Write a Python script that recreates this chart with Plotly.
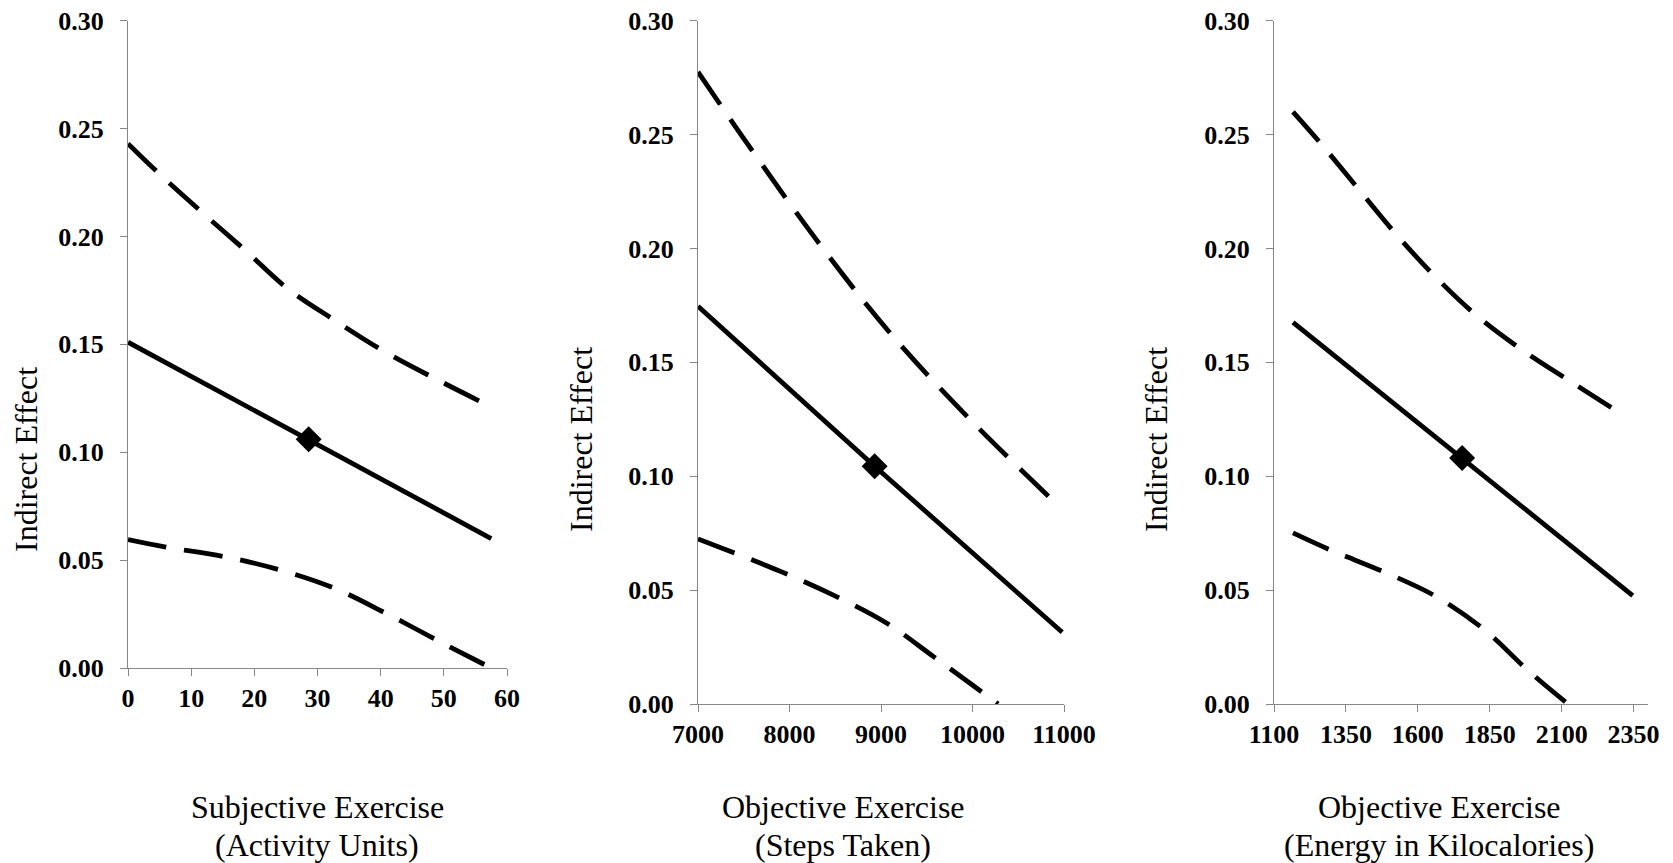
import plotly.graph_objects as go

# ---------------- data ----------------
# Panel 1: Subjective Exercise (Activity Units)
p1_mid_x = [0, 28.6, 57.5]
p1_mid_y = [0.151, 0.106, 0.060]
p1_up_x = [0, 4.6, 11.4, 18.4, 25.2, 32.8, 40.7, 48.9, 57.5]
p1_up_y = [0.243, 0.230, 0.212, 0.194, 0.176, 0.161, 0.1465, 0.1337, 0.121]
p1_lo_x = [0, 6.0, 15.1, 24.1, 32.8, 41.0, 49.7, 57.5]
p1_lo_y = [0.0595, 0.056, 0.0517, 0.0454, 0.0368, 0.0251, 0.0117, 0.0]
p1_pt_x = [28.6]
p1_pt_y = [0.106]

# Panel 2: Objective Exercise (Steps Taken)
p2_mid_x = [7000, 8930, 10980]
p2_mid_y = [0.1746, 0.1044, 0.0315]
p2_up_x = [7000, 7543, 8285, 9078, 9945, 10875]
p2_up_y = [0.2775, 0.2458, 0.2043, 0.1639, 0.1261, 0.0895]
p2_lo_x = [7000, 7914, 8480, 9055, 9574, 10101, 10280]
p2_lo_y = [0.0725, 0.058, 0.0478, 0.0357, 0.0208, 0.0053, 0.0]
p2_pt_x = [8930]
p2_pt_y = [0.1044]

# Panel 3: Objective Exercise (Energy in Kilocalories)
p3_mid_x = [1166, 1754, 2347]
p3_mid_y = [0.1675, 0.108, 0.0476]
p3_up_x = [1166, 1262, 1387, 1517, 1656, 1803, 1963, 2138, 2310]
p3_up_y = [0.260, 0.2462, 0.2271, 0.2073, 0.1882, 0.1707, 0.1554, 0.141, 0.1271]
p3_lo_x = [1166, 1296, 1482, 1666, 1832, 1985, 2122]
p3_lo_y = [0.0751, 0.0676, 0.058, 0.047, 0.0325, 0.0145, 0.0]
p3_pt_x = [1754]
p3_pt_y = [0.108]

y_ticks = [0.00, 0.05, 0.10, 0.15, 0.20, 0.25, 0.30]
x1_ticks = [0, 10, 20, 30, 40, 50, 60]
x2_ticks = [7000, 8000, 9000, 10000, 11000]
x3_ticks = [1100, 1350, 1600, 1850, 2100, 2350]

y_title = "Indirect Effect"
x_titles = [("Subjective Exercise", "(Activity Units)"),
            ("Objective Exercise", "(Steps Taken)"),
            ("Objective Exercise", "(Energy in Kilocalories)")]

# ---------------- figure ----------------
W, H = 1673, 863
SERIF = "Liberation Serif"
LW = 4.8
DASH = "39px,18px"

fig = go.Figure()

panels = [
    (p1_mid_x, p1_mid_y, p1_up_x, p1_up_y, p1_lo_x, p1_lo_y, p1_pt_x, p1_pt_y),
    (p2_mid_x, p2_mid_y, p2_up_x, p2_up_y, p2_lo_x, p2_lo_y, p2_pt_x, p2_pt_y),
    (p3_mid_x, p3_mid_y, p3_up_x, p3_up_y, p3_lo_x, p3_lo_y, p3_pt_x, p3_pt_y),
]

for i, (mx, my, ux, uy, lx, ly, px, py) in enumerate(panels):
    xa = "x" if i == 0 else f"x{i+1}"
    ya = "y" if i == 0 else f"y{i+1}"
    fig.add_trace(go.Scatter(x=ux, y=uy, mode="lines", xaxis=xa, yaxis=ya,
                             line=dict(color="black", width=LW, dash=DASH, shape="spline"),
                             showlegend=False, hoverinfo="skip"))
    fig.add_trace(go.Scatter(x=lx, y=ly, mode="lines", xaxis=xa, yaxis=ya,
                             line=dict(color="black", width=LW, dash=DASH, shape="spline"),
                             showlegend=False, hoverinfo="skip"))
    fig.add_trace(go.Scatter(x=mx, y=my, mode="lines", xaxis=xa, yaxis=ya,
                             line=dict(color="black", width=LW),
                             showlegend=False, hoverinfo="skip"))
    fig.add_trace(go.Scatter(x=px, y=py, mode="markers", xaxis=xa, yaxis=ya,
                             marker=dict(symbol="diamond", size=20, color="black"),
                             showlegend=False, cliponaxis=False))

# pixel geometry of the three plot areas (left, right, top, bottom)
geom = [(128, 507, 20.7, 668), (698, 1064, 20.7, 704), (1274, 1648, 20.7, 704)]
xranges = [[0, 60], [7000, 11000], [1100, 2400]]
xticks = [x1_ticks, x2_ticks, x3_ticks]

tickfont = dict(family=SERIF, size=26, color="black", weight="bold")
axis_common = dict(showline=True, linecolor="#868686", linewidth=1,
                   ticks="outside", ticklen=7, tickcolor="#868686", tickwidth=1,
                   showgrid=False, zeroline=False, tickfont=tickfont, fixedrange=True,
                   automargin=False)

layout = dict(width=W, height=H, margin=dict(l=0, r=0, t=0, b=0, autoexpand=False),
              paper_bgcolor="white", plot_bgcolor="white", showlegend=False)

for i, ((l, r, t, b), xr, xt) in enumerate(zip(geom, xranges, xticks)):
    xk = "xaxis" if i == 0 else f"xaxis{i+1}"
    yk = "yaxis" if i == 0 else f"yaxis{i+1}"
    ya = "y" if i == 0 else f"y{i+1}"
    xa = "x" if i == 0 else f"x{i+1}"
    layout[xk] = dict(domain=[l / W, r / W], range=xr, anchor=ya,
                      tickmode="array", tickvals=xt, ticktext=[str(v) for v in xt],
                      **axis_common)
    layout[yk] = dict(domain=[1 - b / H, 1 - t / H], range=[0, 0.3], anchor=xa,
                      tickmode="array", tickvals=y_ticks,
                      ticktext=[f"{v:.2f}" for v in y_ticks],
                      ticklabelstandoff=11,
                      **axis_common)

fig.update_layout(**layout)

# axis titles as annotations
ytitle_pos = [(26, 460), (581, 440), (1156, 440)]
xtitle_cx = [317, 843, 1439]
TFONT = dict(family=SERIF, size=32, color="black")
for (x, y) in ytitle_pos:
    fig.add_annotation(x=x / W, y=1 - y / H, xref="paper", yref="paper",
                       text=y_title, textangle=-90, showarrow=False,
                       xanchor="center", yanchor="middle", font=TFONT)
for cx, (l1, l2) in zip(xtitle_cx, x_titles):
    fig.add_annotation(x=cx / W, y=1 - 807 / H, xref="paper", yref="paper",
                       text=l1, showarrow=False, xanchor="center", yanchor="middle",
                       font=TFONT)
    fig.add_annotation(x=cx / W, y=1 - 845 / H, xref="paper", yref="paper",
                       text=l2, showarrow=False, xanchor="center", yanchor="middle",
                       font=TFONT)

fig.write_html("out.html", config={"displayModeBar": False},
               post_script="document.body.style.margin='0';document.body.style.overflow='hidden';")
